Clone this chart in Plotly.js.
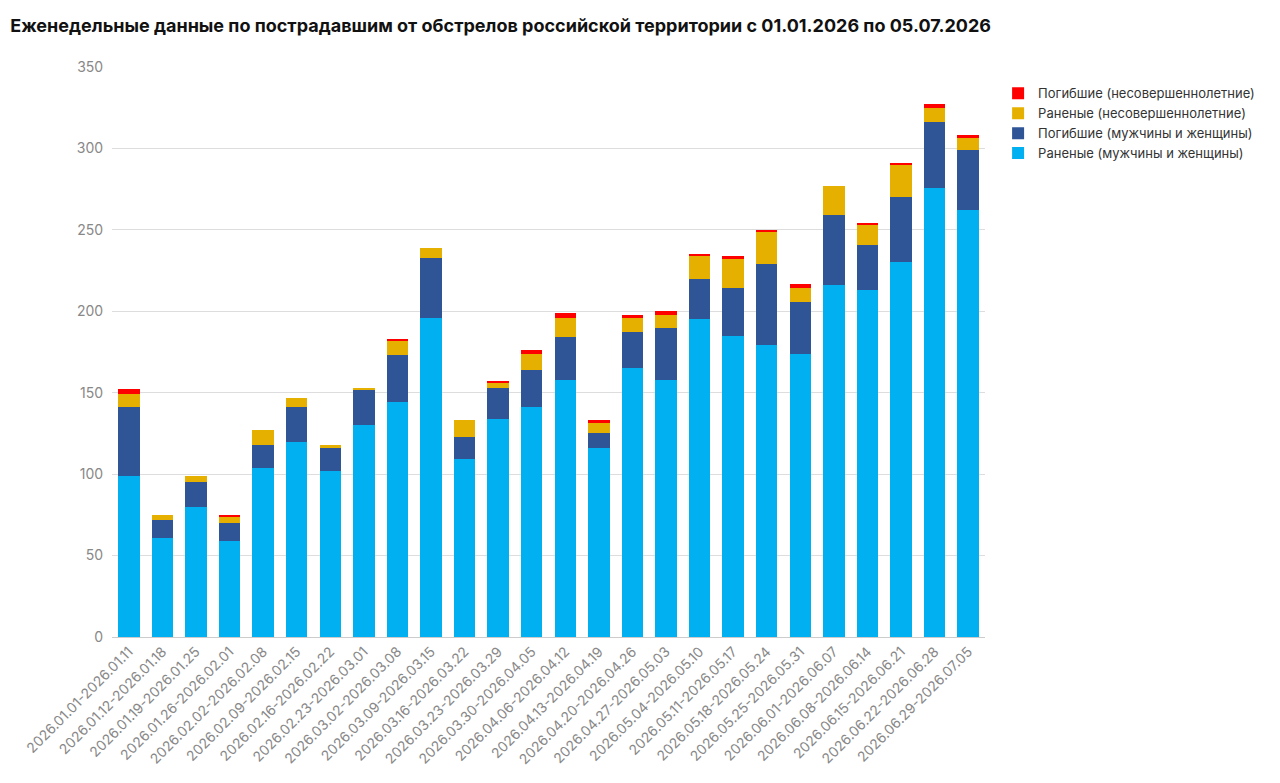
<!DOCTYPE html>
<html>
<head>
<meta charset="utf-8">
<script src="https://cdn.plot.ly/plotly-3.0.1.min.js"></script>
<style>body{margin:0;background:#fff}#chart{width:1280px;height:783px}</style>
</head>
<body>
<div id="chart"></div>
<script>
var weeks = ['2026.01.01-2026.01.11','2026.01.12-2026.01.18','2026.01.19-2026.01.25','2026.01.26-2026.02.01',
  '2026.02.02-2026.02.08','2026.02.09-2026.02.15','2026.02.16-2026.02.22','2026.02.23-2026.03.01',
  '2026.03.02-2026.03.08','2026.03.09-2026.03.15','2026.03.16-2026.03.22','2026.03.23-2026.03.29',
  '2026.03.30-2026.04.05','2026.04.06-2026.04.12','2026.04.13-2026.04.19','2026.04.20-2026.04.26',
  '2026.04.27-2026.05.03','2026.05.04-2026.05.10','2026.05.11-2026.05.17','2026.05.18-2026.05.24',
  '2026.05.25-2026.05.31','2026.06.01-2026.06.07','2026.06.08-2026.06.14','2026.06.15-2026.06.21',
  '2026.06.22-2026.06.28','2026.06.29-2026.07.05'];

var woundedAdults = [99,61,80,59,104,120,102,130,144,196,109,134,141,158,116,165,158,195,185,179,174,216,213,230,276,262];
var killedAdults  = [42,11,15,11,14,21,14,22,29,37,14,19,23,26,9,22,32,25,29,50,32,43,28,40,40,37];
var woundedMinors = [8,3,4,4,9,6,2,1,9,6,10,3,10,12,7,9,8,14,18,20,8,18,12,20,9,8];
var killedMinors  = [3,0,0,1,0,0,0,0,1,0,0,1,2,3,1,2,2,1,2,1,3,0,1,1,2,1];

var traces = [
  {name:'Раненые (мужчины и женщины)', y:woundedAdults, color:'#00B0F0'},
  {name:'Погибшие (мужчины и женщины)', y:killedAdults, color:'#2F5597'},
  {name:'Раненые (несовершеннолетние)', y:woundedMinors, color:'#E6B000'},
  {name:'Погибшие (несовершеннолетние)', y:killedMinors, color:'#FF0000'}
].map(function(t){
  return {x:weeks, y:t.y, name:t.name, type:'bar', marker:{color:t.color}, hoverinfo:'y+name'};
});

var layout = {
  barmode:'stack',
  bargap:0.36,
  width:1280, height:783,
  paper_bgcolor:'#fff', plot_bgcolor:'#fff',
  font:{family:'Inter, Roboto, sans-serif', size:13, color:'#888'},
  title:{text:'<b>Еженедельные данные по пострадавшим от обстрелов российской территории с 01.01.2026 по 05.07.2026</b>',
    x:0.008, xanchor:'left', y:0.975, font:{size:18, color:'#111'}},
  margin:{l:112, r:295, t:67, b:146},
  xaxis:{tickangle:-45, tickfont:{size:14, color:'#888'}, showline:true, linecolor:'#ccc', ticks:''},
  yaxis:{range:[0,350], dtick:50, gridcolor:'#ddd', zeroline:false, tickfont:{size:14, color:'#888'}, ticksuffix:'  '},
  legend:{x:1.015, y:0.98, xanchor:'left', yanchor:'top', traceorder:'reversed',
    font:{size:13, color:'#333'}, itemwidth:30, tracegroupgap:6}
};

Plotly.newPlot('chart', traces, layout, {displayModeBar:false});
</script>
</body>
</html>
